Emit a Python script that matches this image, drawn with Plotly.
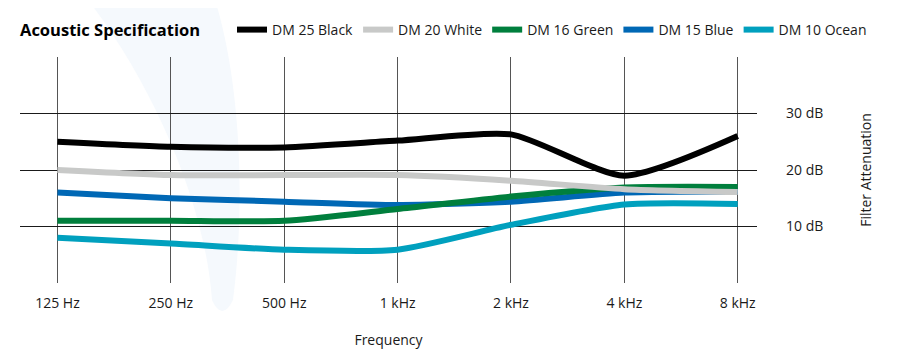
import plotly.graph_objects as go

categories = ["125 Hz", "250 Hz", "500 Hz", "1 kHz", "2 kHz", "4 kHz", "8 kHz"]
dm25_black = [25.0, 24.1, 24.0, 25.2, 26.3, 19.0, 26.0]
dm20_white = [20.0, 19.1, 19.1, 19.1, 18.1, 16.6, 16.1]
dm16_green = [11.0, 11.0, 11.0, 13.1, 15.3, 16.9, 17.0]
dm15_blue = [16.0, 15.0, 14.4, 13.8, 14.4, 16.0, 16.2]
dm10_ocean = [8.0, 7.0, 5.9, 5.9, 10.3, 13.9, 14.0]
y_ticks = [10, 20, 30]
y_tick_labels = ["10 dB", "20 dB", "30 dB"]

series = [
    ("DM 10 Ocean", dm10_ocean, "#00a0be", 5),
    ("DM 15 Blue", dm15_blue, "#0068b5", 4),
    ("DM 16 Green", dm16_green, "#007f3d", 3),
    ("DM 20 White", dm20_white, "#c8c9c8", 2),
    ("DM 25 Black", dm25_black, "#000000", 1),
]

FONT = "Open Sans"
OFF = 8  # page body margin
W, H = 909 - OFF, 358 - OFF
ML, MR, MT, MB = 20 - OFF, 152, 57 - OFF, 75
PW, PH = W - ML - MR, H - MT - MB

fig = go.Figure()
for name, vals, color, rank in series:
    fig.add_trace(go.Scatter(
        x=list(range(len(categories))), y=vals, name=name, mode="lines",
        line=dict(color=color, width=6, shape="spline", smoothing=0.65),
        legendrank=rank, hoverinfo="skip",
    ))

# faint decorative swoosh in the background (page pixel points -> paper coords)
def px(x, y):
    x -= OFF
    y -= OFF
    return f"{(x - ML) / PW:.4f},{(H - MB - y) / PH:.4f}"

swoosh = (f"M {px(88, 0)} C {px(150, 80)} {px(205, 200)} {px(212, 300)} "
          f"Q {px(222, 322)} {px(233, 300)} "
          f"C {px(246, 200)} {px(240, 80)} {px(215, 0)} Z")

fig.update_layout(
    width=W, height=H,
    margin=dict(l=ML, r=MR, t=MT, b=MB, autoexpand=False),
    paper_bgcolor="white", plot_bgcolor="rgba(0,0,0,0)",
    font=dict(family=FONT, size=14, color="#1a1a1a"),
    shapes=[dict(type="path", path=swoosh, xref="paper", yref="paper",
                 fillcolor="#f5f9fd", line=dict(width=0), layer="below")],
    showlegend=True,
    legend=dict(orientation="h", xref="container", yref="container",
                x=(232 - OFF) / W, xanchor="left", y=1 - (30 - OFF) / H, yanchor="middle",
                font=dict(family=FONT, size=14, color="#1a1a1a"),
                itemwidth=30, bgcolor="rgba(0,0,0,0)"),
)
fig.add_annotation(text="<b>Acoustic Specification</b>", xref="paper", yref="paper",
                   x=(20 - OFF - ML) / PW, y=(H - MB - (29 - OFF)) / PH,
                   xanchor="left", yanchor="middle", xshift=-2,
                   showarrow=False, font=dict(family=FONT, size=16.5, color="#000000"))

fig.update_xaxes(
    range=[-0.33, 6.17], tickmode="array", tickvals=list(range(len(categories))),
    ticktext=categories, showgrid=True, gridcolor="#555555", gridwidth=1.2,
    zeroline=False, showline=False, ticks="", ticklabelstandoff=10,
    title=dict(text="Frequency", font=dict(size=14), standoff=24),
    tickfont=dict(size=14), fixedrange=True, automargin=False,
)
fig.update_yaxes(
    range=[0, 40], side="right", tickmode="array", tickvals=y_ticks,
    ticktext=y_tick_labels, showgrid=True, gridcolor="#1a1a1a", gridwidth=1.4,
    zeroline=False, showline=False, ticks="", ticklabelstandoff=28,
    title=dict(text="Filter Attenuation", font=dict(size=14), standoff=38),
    tickfont=dict(size=14), fixedrange=True, automargin=False,
)

fig.write_html("out.html")
